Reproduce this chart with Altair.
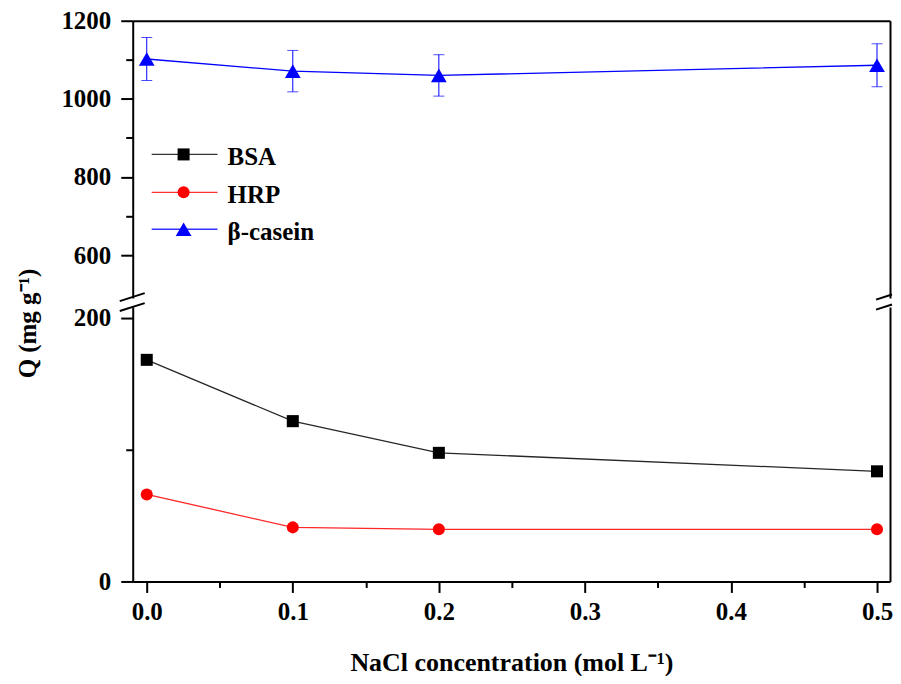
import altair as alt
import pandas as pd

# ---- data ----
conc = [0.0, 0.1, 0.2, 0.5]
bsa = [168.0, 121.5, 97.5, 83.5]
bsa_err = [1.5, 4.0, 2.0, 1.5]
hrp = [66.0, 41.0, 39.5, 39.5]
hrp_err = [1.0, 1.5, 1.5, 1.0]
casein = [1102, 1071, 1060, 1086]
casein_err = [55, 53, 53, 55]

series_names = ["BSA", "HRP", "β-casein"]
series_colors = ["#000000", "#ff0000", "#0000ff"]
series_shapes = ["square", "circle", "triangle-up"]

x_ticks = [0.0, 0.1, 0.2, 0.3, 0.4, 0.5]
x_minor = [0.05, 0.15, 0.25, 0.35, 0.45]
top_ticks = [600, 800, 1000, 1200]
top_minor = [700, 900, 1100]
bot_ticks = [0, 200]
bot_minor = [100]

x_title = "NaCl concentration (mol L⁻¹)"
y_title = "Q (mg g⁻¹)"

# ---- tables ----
df_top = pd.DataFrame({"conc": conc, "Q": casein, "err": casein_err})
df_top["series"] = "β-casein"
df_top["low"] = df_top["Q"] - df_top["err"]
df_top["high"] = df_top["Q"] + df_top["err"]

df_bot = pd.concat([
    pd.DataFrame({"conc": conc, "Q": bsa, "err": bsa_err, "series": "BSA"}),
    pd.DataFrame({"conc": conc, "Q": hrp, "err": hrp_err, "series": "HRP"}),
], ignore_index=True)
df_bot["low"] = df_bot["Q"] - df_bot["err"]
df_bot["high"] = df_bot["Q"] + df_bot["err"]

W, HT, HB = 759, 278, 275
FONT = "Liberation Serif"

xs = alt.Scale(domain=[-0.0096, 0.5089], nice=False)
yst = alt.Scale(domain=[490, 1200], nice=False)
ysb = alt.Scale(domain=[0, 208], nice=False)

X_none = alt.X("conc:Q", scale=xs, axis=None)
color_enc = alt.Color("series:N", scale=alt.Scale(domain=series_names, range=series_colors), legend=None)
shape_enc = alt.Shape("series:N", scale=alt.Scale(domain=series_names, range=series_shapes), legend=None)
dummy = pd.DataFrame({"k": [0]})


def slash(x0, x1, yc):
    # break mark: slanted line from lower-left to upper-right
    return alt.Chart(dummy).mark_rule(color="black", strokeWidth=2).encode(
        x=alt.value(x0), x2=alt.value(x1),
        y=alt.value(yc + (x1 - x0) * 0.16), y2=alt.value(yc - (x1 - x0) * 0.16))


# ---- top panel (β-casein) ----
bt = alt.Chart(df_top)
blue = series_colors[2]
top_layers = [
    bt.mark_line(color=blue, strokeWidth=1.3).encode(
        x=X_none,
        y=alt.Y("Q:Q", scale=yst, axis=alt.Axis(values=top_ticks, title=None, format="d", orient="left",
                                                  tickSize=12, labelPadding=10, grid=False))),
    bt.mark_rule(color=blue, strokeWidth=1).encode(
        x=X_none, y=alt.Y("low:Q", scale=yst, axis=None), y2="high:Q"),
    bt.mark_tick(color=blue, orient="horizontal", size=11, thickness=1).encode(
        x=X_none, y=alt.Y("low:Q", scale=yst, axis=None)),
    bt.mark_tick(color=blue, orient="horizontal", size=11, thickness=1).encode(
        x=X_none, y=alt.Y("high:Q", scale=yst, axis=None)),
    bt.mark_point(shape="triangle-up", filled=True, size=250, color=blue, opacity=1).encode(
        x=X_none, y=alt.Y("Q:Q", scale=yst, axis=None)),
    # minor ticks
    bt.mark_point(opacity=0).encode(
        x=X_none,
        y=alt.Y("Q:Q", scale=yst, axis=alt.Axis(values=top_minor, labels=False, tickSize=7, orient="left",
                                                  domain=False, title=None, grid=False))),
    # right frame
    bt.mark_point(opacity=0).encode(
        x=X_none,
        y=alt.Y("Q:Q", scale=yst, axis=alt.Axis(orient="right", ticks=False, labels=False,
                                                  domain=True, title=None, grid=False))),
    # top frame
    bt.mark_point(opacity=0).encode(
        x=alt.X("conc:Q", scale=xs, axis=alt.Axis(orient="top", ticks=False, labels=False,
                                                   domain=True, title=None, grid=False)),
        y=alt.Y("Q:Q", scale=yst, axis=None)),
    slash(-13, 12, HT - 1), slash(W - 14, W + 2, HT - 1),
]

# legend (decoration)
leg_y = [134, 172, 209]
for name, col, shp, yy in zip(series_names, series_colors, series_shapes, leg_y):
    ld = pd.DataFrame({"label": [name]})
    top_layers.append(alt.Chart(ld).mark_rule(color=col, strokeWidth=1.3, opacity=0.8).encode(
        x=alt.value(19), x2=alt.value(85), y=alt.value(yy)))
    top_layers.append(alt.Chart(ld).mark_point(shape=shp, filled=True, opacity=1, color=col,
                                               size=250 if shp == "triangle-up" else 145).encode(
        x=alt.value(51), y=alt.value(yy)))
    top_layers.append(alt.Chart(ld).mark_text(align="left", baseline="middle", font=FONT,
                                              fontSize=25, fontWeight="bold", color="black").encode(
        x=alt.value(95), y=alt.value(yy + 3), text="label:N"))

top = alt.layer(*top_layers).resolve_axis(x="independent", y="independent").properties(
    width=W, height=HT)

# ---- bottom panel (BSA, HRP) ----
bb = alt.Chart(df_bot)
bot_layers = [
    bb.mark_line(strokeWidth=1.3, opacity=0.85).encode(
        x=alt.X("conc:Q", scale=xs,
                axis=alt.Axis(values=x_ticks, format=".1f", tickSize=11, labelPadding=7, orient="bottom",
                              labelFlush=False, title=x_title, titlePadding=25, titleFontSize=26,
                              grid=False)),
        y=alt.Y("Q:Q", scale=ysb,
                axis=alt.Axis(values=bot_ticks, format="d", tickSize=12, labelPadding=10, orient="left",
                              title=y_title, titleX=-92, titleY=16, grid=False)),
        color=color_enc, detail="series:N"),
    bb.mark_rule(strokeWidth=1).encode(
        x=X_none, y=alt.Y("low:Q", scale=ysb, axis=None), y2="high:Q", color=color_enc),
    bb.mark_tick(orient="horizontal", size=11, thickness=1).encode(
        x=X_none, y=alt.Y("low:Q", scale=ysb, axis=None), color=color_enc),
    bb.mark_tick(orient="horizontal", size=11, thickness=1).encode(
        x=X_none, y=alt.Y("high:Q", scale=ysb, axis=None), color=color_enc),
    bb.mark_point(filled=True, size=145, opacity=1).encode(
        x=X_none, y=alt.Y("Q:Q", scale=ysb, axis=None), color=color_enc, shape=shape_enc),
    # minor ticks
    bb.mark_point(opacity=0).encode(
        x=alt.X("conc:Q", scale=xs, axis=alt.Axis(values=x_minor, labels=False, tickSize=6, orient="bottom",
                                                   domain=False, title=None, grid=False)),
        y=alt.Y("Q:Q", scale=ysb, axis=alt.Axis(values=bot_minor, labels=False, tickSize=7, orient="left",
                                                  domain=False, title=None, grid=False))),
    # right frame
    bb.mark_point(opacity=0).encode(
        x=X_none,
        y=alt.Y("Q:Q", scale=ysb, axis=alt.Axis(orient="right", ticks=False, labels=False,
                                                  domain=True, title=None, grid=False))),
    slash(-13, 12, 0), slash(W - 14, W + 2, 0),
]
bottom = alt.layer(*bot_layers).resolve_axis(x="independent", y="independent").properties(
    width=W, height=HB)

chart = alt.vconcat(top, bottom, spacing=9, bounds="flush").properties(
    padding={"left": 7, "top": 0, "right": 0, "bottom": 0}
).configure_view(stroke=None).configure_axis(
    domainColor="black", domainWidth=2, tickColor="black", tickWidth=2,
    labelFont=FONT, labelFontSize=25, labelFontWeight="bold", labelColor="black",
    titleFont=FONT, titleFontSize=25, titleFontWeight="bold", titleColor="black",
)

chart.save("out.html", embed_options={"renderer": "svg", "actions": False})
